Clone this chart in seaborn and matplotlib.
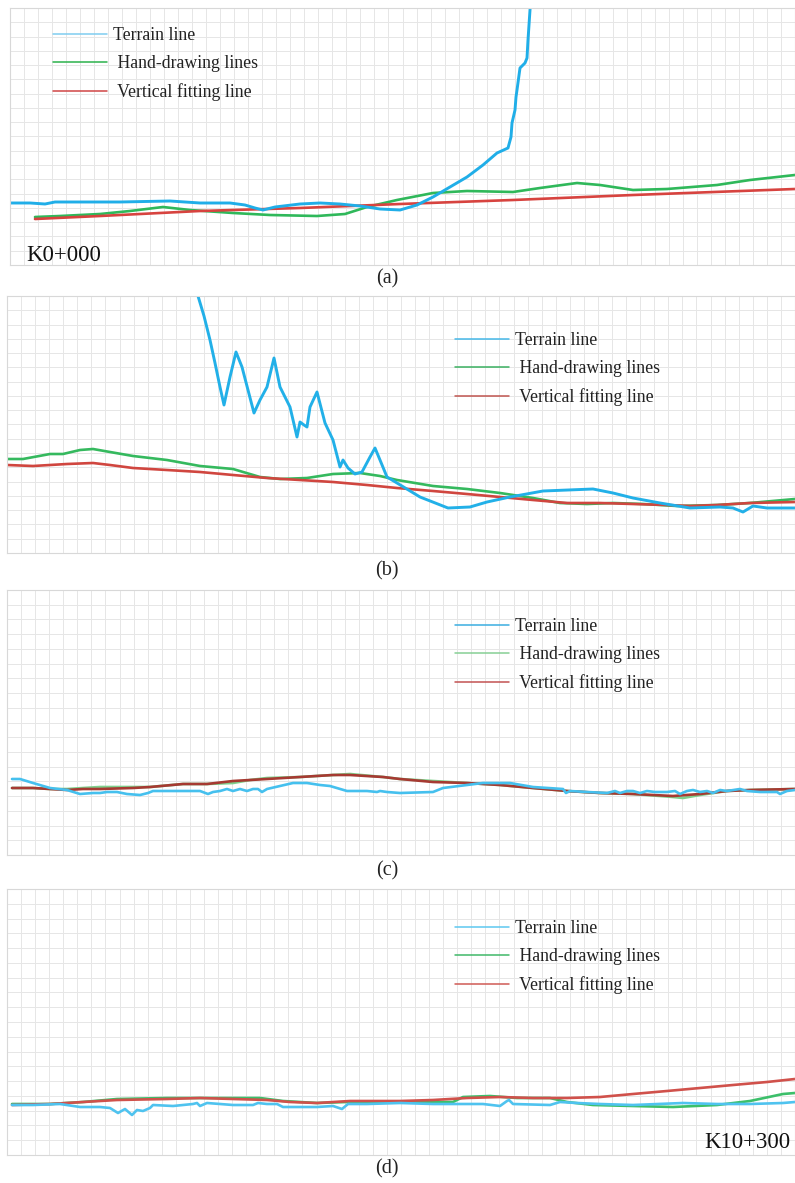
import numpy as np
import matplotlib
matplotlib.use("Agg")
import matplotlib.pyplot as plt
from matplotlib.lines import Line2D
import seaborn as sns

# ---------------- data (distance, elevation) ----------------
# Panel (a)  K0+000
a_ter_x = [10, 30, 45, 55, 70, 120, 170, 200, 230, 245, 255, 263, 275, 300, 320, 340, 360, 380, 400,
           417, 433, 450, 467, 483, 497, 508, 511, 512, 515, 516, 517, 520, 525, 527, 528, 530, 531]
a_ter_y = [62, 62, 61, 63, 63, 63, 64, 62, 62, 60, 57, 55, 58, 61, 62, 61, 59, 56, 55,
           60, 68, 78, 88, 100, 112, 117, 128, 142, 155, 168, 175, 197, 202, 207, 225, 255, 270]
a_hand_x = [35, 60, 100, 130, 163, 190, 233, 270, 317, 345, 367, 397, 433, 467, 513, 540, 577, 600,
            633, 667, 717, 750, 795]
a_hand_y = [48, 49, 51, 54, 58, 55, 52, 50, 49, 51, 58, 65, 72, 74, 73, 77, 82, 80, 75, 76, 80, 85, 90]
a_fit_x = [35, 100, 200, 300, 400, 513, 633, 795]
a_fit_y = [46, 49, 54, 57, 61, 65, 70, 76]

# Panel (b)
b_ter_x = [196, 198, 204, 210, 215, 220, 224, 230, 236, 242, 248, 254, 260, 267, 274, 280, 290, 297,
           300, 304, 307, 310, 317, 325, 333, 340, 343, 348, 355, 362, 370, 375, 380, 387, 397, 420,
           448, 470, 487, 510, 543, 593, 613, 633, 660, 690, 720, 733, 743, 753, 767, 795]
b_ter_y = [265, 257, 237, 213, 190, 166, 148, 176, 201, 186, 163, 140, 153, 166, 195, 166, 146, 116,
           131, 128, 126, 146, 161, 130, 113, 86, 93, 85, 79, 81, 96, 105, 93, 76, 70, 56,
           45, 46, 51, 56, 62, 64, 60, 55, 50, 45, 46, 45, 41, 47, 45, 45]
b_hand_x = [7, 23, 50, 63, 80, 93, 110, 133, 167, 200, 233, 260, 280, 307, 333, 360, 380, 397, 433,
            467, 500, 533, 560, 587, 613, 643, 677, 717, 750, 795]
b_hand_y = [94, 94, 99, 99, 103, 104, 101, 97, 93, 87, 84, 76, 74, 75, 79, 80, 77, 73, 67,
            64, 60, 55, 50, 49, 50, 49, 47, 48, 50, 54]
b_fit_x = [7, 33, 67, 93, 110, 133, 167, 200, 233, 267, 300, 333, 367, 397, 433, 467, 500, 533, 567,
           600, 633, 667, 690, 717, 750, 795]
b_fit_y = [88, 87, 89, 90, 88, 85, 83, 81, 78, 75, 73, 71, 68, 65, 62, 59, 56, 53, 50,
           50, 49, 48, 47, 48, 50, 51]

# Panel (c)
c_ter_x = [12, 20, 33, 50, 67, 80, 93, 100, 107, 117, 127, 140, 148, 153, 200, 208, 213, 220, 227,
           233, 240, 247, 253, 258, 262, 267, 280, 293, 307, 320, 330, 347, 367, 377, 380, 387, 400,
           433, 443, 467, 483, 510, 533, 563, 566, 570, 587, 607, 615, 620, 627, 633, 640, 647, 655,
           667, 675, 680, 687, 693, 700, 707, 713, 720, 727, 740, 747, 760, 777, 780, 787, 795]
c_ter_y = [76, 76, 72, 67, 65, 61, 62, 62, 63, 63, 61, 60, 62, 64, 64, 61, 63, 64, 66,
           64, 66, 64, 66, 66, 63, 66, 69, 72, 72, 70, 69, 64, 64, 63, 64, 63, 62,
           63, 67, 70, 72, 72, 68, 66, 62, 64, 63, 62, 64, 62, 64, 64, 62, 64, 63,
           63, 64, 61, 64, 65, 63, 64, 62, 65, 64, 66, 64, 63, 63, 61, 64, 65]
c_hand_x = [12, 33, 50, 67, 83, 100, 133, 150, 183, 207, 233, 250, 267, 300, 333, 350, 383, 400, 433,
            467, 500, 533, 567, 600, 633, 673, 683, 700, 727, 750, 795]
c_hand_y = [67, 67, 66, 66, 67, 68, 68, 68, 71, 71, 72, 75, 77, 78, 80, 81, 78, 76, 74,
            72, 70, 67, 64, 62, 61, 58, 57, 60, 64, 65, 66]
c_fit_x = [12, 33, 50, 67, 83, 100, 133, 150, 183, 207, 233, 267, 300, 333, 350, 383, 400, 433, 467,
           500, 533, 567, 600, 633, 673, 700, 727, 750, 795]
c_fit_y = [67, 67, 66, 65, 66, 66, 67, 68, 71, 71, 74, 76, 78, 80, 80, 78, 76, 73, 72,
           70, 67, 64, 62, 61, 59, 61, 64, 65, 66]

# Panel (d)  K10+300
d_ter_x = [12, 33, 60, 80, 100, 110, 118, 125, 132, 137, 143, 150, 153, 173, 193, 197, 200, 207, 233,
           253, 258, 267, 277, 283, 317, 333, 342, 348, 367, 400, 433, 483, 500, 507, 509, 513, 550,
           560, 577, 600, 633, 683, 717, 750, 783, 795]
d_ter_y = [50, 50, 51, 48, 48, 47, 42, 46, 40, 45, 44, 47, 50, 49, 51, 52, 49, 52, 50,
           50, 52, 51, 51, 48, 48, 49, 46, 51, 51, 52, 51, 51, 49, 54, 55, 51, 50,
           53, 52, 51, 50, 52, 51, 51, 52, 53]
d_hand_x = [12, 50, 83, 117, 167, 200, 233, 260, 283, 317, 347, 367, 400, 433, 453, 463, 490, 517,
            550, 567, 593, 633, 673, 717, 750, 783, 795]
d_hand_y = [51, 51, 53, 56, 57, 57, 57, 57, 54, 52, 53, 52, 53, 53, 53, 58, 59, 57,
            57, 53, 50, 49, 48, 50, 54, 61, 62]
d_fit_x = [12, 50, 83, 117, 167, 200, 233, 267, 290, 317, 350, 400, 433, 467, 500, 533, 567, 600,
           633, 667, 700, 733, 767, 795]
d_fit_y = [50, 51, 53, 55, 56, 57, 56, 55, 53, 52, 54, 54, 55, 57, 58, 57, 57, 58,
           61, 64, 67, 70, 73, 76]

labels = ["Terrain line", " Hand-drawing lines", " Vertical fitting line"]
captions = ["(a)", "(b)", "(c)", "(d)"]

# ---------------- style ----------------
sns.set_style("whitegrid", {"grid.color": "#e6e6e6", "axes.edgecolor": "#d8d8d8"})
plt.rcParams["font.family"] = ["Liberation Serif", "DejaVu Serif"]

W, H = 795, 1183
fig = plt.figure(figsize=(W / 100, H / 100), dpi=100)

# panel geometry in pixels: left, right, top, bottom
geo = [(10, 795, 8, 265), (7, 795, 296, 553), (7, 795, 590, 855), (7, 795, 889, 1155)]
cap_y = [279, 571, 871, 1169]

panels = [
    (a_ter_x, a_ter_y, a_hand_x, a_hand_y, a_fit_x, a_fit_y),
    (b_ter_x, b_ter_y, b_hand_x, b_hand_y, b_fit_x, b_fit_y),
    (c_ter_x, c_ter_y, c_hand_x, c_hand_y, c_fit_x, c_fit_y),
    (d_ter_x, d_ter_y, d_hand_x, d_hand_y, d_fit_x, d_fit_y),
]
line_cols = [
    ("#20aee8", "#2fb85a", "#d7433f"),
    ("#22b0e8", "#35b95e", "#d0463f"),
    ("#45c0ee", "#7fd08c", "#a63a32"),
    ("#4fc3ef", "#3cbf6a", "#d0514b"),
]
leg_cols = [
    ("#7fcdf0", "#2bb24c", "#d04545"),
    ("#45b8e8", "#3bb060", "#c0554f"),
    ("#3aaee0", "#86cf95", "#c25252"),
    ("#5cc8f0", "#40b868", "#d05a55"),
]
# legend anchor (pixel of handle start, top of legend)
leg_pos = [(53, 27), (455, 332), (455, 618), (455, 920)]
ter_lw = [2.1, 2.1, 1.9, 1.9]

for i, (l, r, t, b) in enumerate(geo):
    ax = fig.add_axes([l / W, 1 - b / H, (r - l) / W, (b - t) / H])
    tx, ty, hx, hy, fx, fy = panels[i]
    ch = b - t
    cT, cH, cF = line_cols[i]
    kw = dict(ax=ax, sort=False, estimator=None, legend=False,
              solid_joinstyle="round", solid_capstyle="round")
    sns.lineplot(x=hx, y=hy, color=cH, lw=1.9, **kw)
    sns.lineplot(x=fx, y=fy, color=cF, lw=1.9, **kw)
    sns.lineplot(x=tx, y=ty, color=cT, lw=ter_lw[i], **kw)
    ax.set_xlim(l, r)
    ax.set_ylim(0, ch)
    ax.set_xticks(np.linspace(l, r, 57))
    ax.set_yticks(np.linspace(0, ch, 19))
    ax.tick_params(length=0, labelbottom=False, labelleft=False)
    ax.grid(True, color="#e6e6e6", lw=0.7)
    ax.set_xlabel("")
    ax.set_ylabel("")
    for s in ax.spines.values():
        s.set_color("#d8d8d8")
        s.set_linewidth(0.8)
    lc = leg_cols[i]
    handles = [Line2D([], [], color=c, lw=1.1) for c in lc]
    lx, ly = leg_pos[i]
    ax.legend(handles, labels, loc="upper left",
              bbox_to_anchor=((lx - l) / (r - l), 1 - (ly - t) / ch),
              frameon=False, fontsize=12.8, handlelength=3.05, handletextpad=0.3,
              labelspacing=0.62, borderpad=0, borderaxespad=0, labelcolor="#222222")
    fig.text(387 / W, 1 - cap_y[i] / H, captions[i], ha="center", va="center",
             fontsize=14.5, color="#222222")

fig.text(26 / W, 1 - 261 / H, "K0+000", ha="left", va="baseline", fontsize=16.5, color="#111111")
fig.text(790 / W, 1 - 1148 / H, "K10+300", ha="right", va="baseline", fontsize=16.5, color="#111111")

fig.savefig("out.png", dpi=100, facecolor="white")
